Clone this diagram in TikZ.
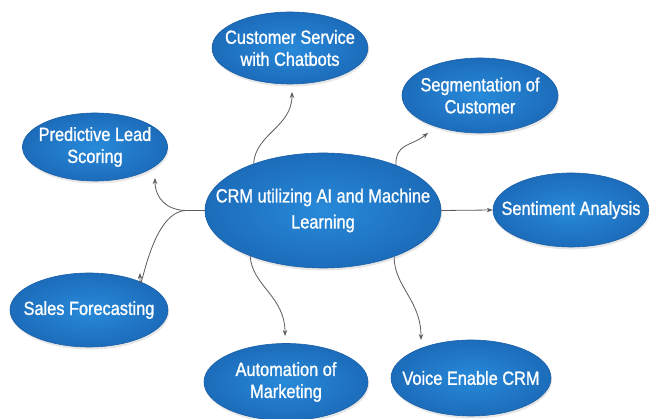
\documentclass[tikz,border=0pt]{standalone}
\usepackage{fontspec}
\setmainfont{Liberation Sans}[FakeStretch=0.86,FakeBold=1.1]
\usetikzlibrary{shapes.geometric,arrows.meta,calc,shadows}
\definecolor{bluein}{RGB}{40,138,218}
\definecolor{blueout}{RGB}{28,108,186}
\definecolor{bluerim}{RGB}{26,96,168}
\definecolor{arrowgray}{RGB}{90,90,95}
\begin{document}
\begin{tikzpicture}[x=1pt,y=1pt,
  bub/.style={ellipse, inner sep=0pt, shading=radial, inner color=bluein, outer color=blueout,
    draw=bluerim, line width=0.6pt,
    drop shadow={opacity=0.2, shadow xshift=1pt, shadow yshift=-2.5pt}},
  lbl/.style={text=white, align=center, inner sep=0pt, font=\fontsize{19}{22}\selectfont},
  conn/.style={draw=arrowgray, line width=0.8pt, -{Stealth[length=6pt,width=4.5pt]}}]
\useasboundingbox (0,0) rectangle (649,419);
% ellipses
\node[bub, minimum width=236pt, minimum height=115pt] (c) at (323,208.5) {};
\node[bub, minimum width=156pt, minimum height=72pt] (cs) at (290,371) {};
\node[bub, minimum width=145pt, minimum height=68pt] (pred) at (95,272) {};
\node[bub, minimum width=156pt, minimum height=75pt] (seg) at (480,323.5) {};
\node[bub, minimum width=156pt, minimum height=74pt] (sent) at (571,209) {};
\node[bub, minimum width=158pt, minimum height=74pt] (sales) at (89,109) {};
\node[bub, minimum width=164pt, minimum height=77pt] (auto) at (286,37) {};
\node[bub, minimum width=160pt, minimum height=76pt] (voice) at (471,41) {};
% labels
\node[lbl, font=\fontsize{19}{26}\selectfont] (ct) at (c) {CRM utilizing AI and Machine\\Learning};
\node[lbl] (cst) at (cs) {Customer Service\\with Chatbots};
\node[lbl] (predt) at (pred) {Predictive Lead\\Scoring};
\node[lbl] (segt) at (seg) {Segmentation of\\Customer};
\node[lbl] (sentt) at (sent) {Sentiment Analysis};
\node[lbl] (salest) at (sales) {Sales Forecasting};
\node[lbl] (autot) at (auto) {Automation of\\Marketing};
\node[lbl] (voicet) at (voice) {Voice Enable CRM};
% connectors
\coordinate (br) at ($(c.west)+(-18,0)$);
\draw[conn] (c.146) .. controls +(2,30) and +(0,-35) .. ($(cs.center)+(2,-44)$);
\draw[conn] (c.32) .. controls +(0,22) and +(-18,-14) .. ($(seg.center)+(-52,-37.5)$);
\draw[conn] (c.east) -- (sent.west);
\draw[draw=arrowgray, line width=0.8pt] (c.west) -- (br);
\draw[conn] (br) .. controls +(-20,0) and +(0,-20) .. ($(pred.center)+(60,-31)$);
\draw[conn] (br) .. controls +(-38,0) and +(0,-35) .. ($(sales.center)+(51,37)$);
\draw[conn] (c.212) .. controls +(2,-30) and +(0,40) .. ($(auto.center)+(-1,46)$);
\draw[conn] (c.-33) .. controls +(0,-30) and +(0,40) .. ($(voice.center)+(-50,38)$);
\end{tikzpicture}
\end{document}
